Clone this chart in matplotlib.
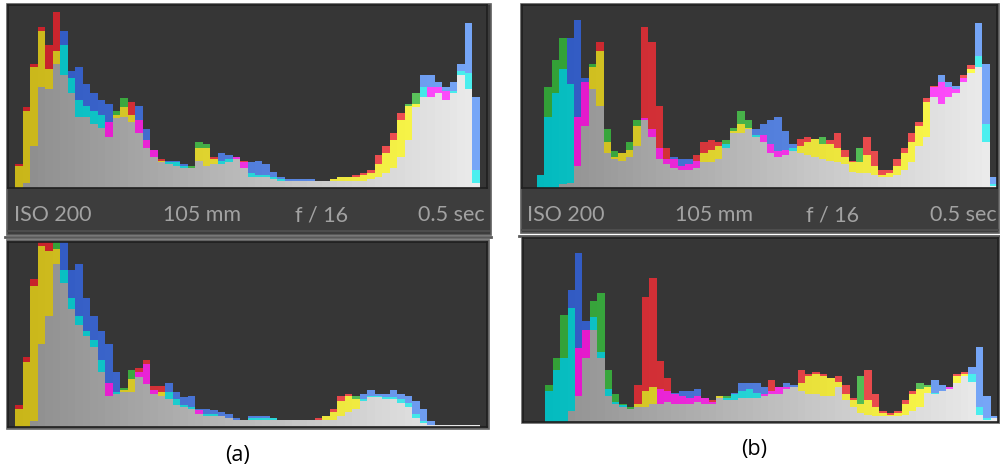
import numpy as np
import matplotlib
matplotlib.use('Agg')
import matplotlib.pyplot as plt
from matplotlib.patches import Rectangle
from matplotlib.colors import to_rgb

# ---------------- data: per-bin channel heights (percent of panel height) ----------------
a_top_r = [0,13,44,68,88,78,96,62,52,39,39,35,33,36,40,44,47,37,26,21,16,13,12,11,11,22,22,17,13,14,17,15,
           6,6,6,5,4,4,4,4,4,4,4,5,6,6,7,8,10,18,23,30,41,45,46,50,55,55,53,52,62,54,3,0]
a_top_g = [0,12,42,66,86,65,75,78,60,48,45,42,40,28,42,49,40,30,22,17,15,14,14,12,12,25,24,16,15,16,16,11,
           8,7,7,6,5,4,4,4,4,4,4,5,6,6,6,7,8,13,19,26,37,46,52,55,50,52,48,53,64,63,10,0]
a_top_b = [0,0,3,23,55,54,68,86,64,66,57,52,48,46,38,39,36,45,32,21,14,15,15,13,11,15,12,13,19,18,17,14,
           14,15,13,9,6,5,5,5,5,4,4,4,4,4,4,4,5,6,8,11,17,26,44,62,62,58,55,58,68,90,50,0]

a_bot_r = [0,12,38,80,100,100,96,78,64,55,49,43,30,24,18,20,26,32,36,22,22,15,12,11,10,9,6,6,6,5,4,4,
           4,4,4,4,4,4,4,4,4,5,6,10,17,18,15,14,16,16,15,15,13,11,5,2,1,1,1,1,1,1,1,0]
a_bot_g = [0,10,35,76,98,95,100,85,70,60,52,47,36,17,19,21,31,27,23,18,19,19,15,12,11,7,7,7,6,5,4,4,
           5,5,5,5,4,4,4,4,4,4,6,8,14,17,17,15,17,17,16,16,15,13,7,3,1,1,1,1,1,1,1,0]
a_bot_b = [0,0,0,3,45,60,88,100,85,88,70,60,52,45,30,19,19,30,34,20,17,24,19,16,17,10,10,9,8,7,5,4,
           6,6,6,5,4,4,4,4,4,4,4,4,6,8,10,18,20,18,18,20,18,17,14,10,3,1,1,1,1,1,1,0]

b_top_r = [0,0,0,0,0,2,3,39,58,66,80,25,17,19,21,34,88,80,45,22,16,12,13,18,25,26,25,22,31,35,33,28,
           29,24,20,21,20,27,28,27,24,26,30,21,15,14,28,20,10,10,16,22,30,36,49,56,58,55,54,62,67,66,25,1]
b_top_g = [0,0,7,55,70,82,57,12,34,68,75,32,20,19,25,37,37,28,16,13,11,10,10,11,19,21,23,26,33,42,37,29,
           25,19,17,18,22,23,25,27,28,24,22,17,14,22,18,12,7,8,12,19,25,34,47,50,46,50,52,58,65,72,35,2]
b_top_b = [0,0,7,39,52,65,82,92,60,54,45,19,16,15,17,23,38,32,22,16,17,16,16,15,14,14,16,24,30,30,32,32,
           35,37,39,31,24,19,18,17,16,15,14,13,9,8,8,7,6,6,7,10,14,23,28,55,62,58,56,60,63,90,68,6]

b_bot_r = [0,0,0,0,0,0,6,40,50,50,35,14,10,8,7,20,68,78,33,24,15,14,13,14,13,12,14,12,12,13,13,13,
           15,23,19,19,19,28,26,27,26,24,25,20,13,10,28,15,6,5,6,12,17,18,19,15,17,19,26,27,22,4,1,2]
b_bot_g = [0,0,0,20,35,58,62,14,35,66,70,28,15,10,8,10,17,19,10,11,10,10,10,11,10,10,14,14,15,17,18,16,
           14,15,15,18,19,21,25,26,25,24,22,15,12,25,12,8,5,4,5,10,15,21,20,16,17,18,25,26,26,8,2,2]
b_bot_b = [0,0,0,17,28,35,72,92,55,57,38,18,11,9,7,8,8,10,18,17,16,17,17,18,13,11,13,13,16,21,21,21,
           19,17,19,21,20,17,15,15,14,14,19,12,8,5,4,3,3,3,3,4,6,8,16,23,20,19,21,25,30,41,14,3]

info_labels = ['ISO 200', '105 mm', 'f / 16', '0.5 sec']
panel_labels = ['(a)', '(b)']

# ---------------- style ----------------
PAL = {
    'gray': ('#8a8a8a', '#ededed'),
    'R': ('#c41f28', '#f65a5a'),
    'G': ('#2f9e34', '#62c862'),
    'B': ('#2a52bd', '#78a8f8'),
    'Y': ('#c8b418', '#ffff50'),
    'C': ('#00b8bc', '#4ef0f0'),
    'M': ('#e012c4', '#ff50ff'),
}
PAIR = {frozenset('RG'): 'Y', frozenset('GB'): 'C', frozenset('RB'): 'M'}
HIST_BG = '#363636'
BAR_BG = '#3d3d3d'
TXT = '#a2a2a2'

W, H = 1000, 470
fig = plt.figure(figsize=(W / 100, H / 100), dpi=100)
fig.patch.set_facecolor('white')

bg = fig.add_axes([0, 0, 1, 1])
bg.set_xlim(0, W)
bg.set_ylim(H, 0)
bg.axis('off')


def px_axes(x0, y0, x1, y1):
    return fig.add_axes([x0 / W, 1 - y1 / H, (x1 - x0) / W, (y1 - y0) / H])


def grad(name, n):
    c0 = np.array(to_rgb(PAL[name][0]))
    c1 = np.array(to_rgb(PAL[name][1]))
    t = (np.arange(n) + 0.5) / n
    return c0[None, :] * (1 - t[:, None]) + c1[None, :] * t[:, None]


def draw_hist(ax, r, g, b):
    ch = np.array([r, g, b], dtype=float)
    n = ch.shape[1]
    order = np.argsort(ch, axis=0, kind='stable')
    srt = np.take_along_axis(ch, order, axis=0)
    lo, mid, hi = srt
    names = 'RGB'
    grads = {k: grad(k, n) for k in PAL}
    x = np.arange(n)
    mid_c = [grads[PAIR[frozenset(names[order[1, i]] + names[order[2, i]])]][i] for i in range(n)]
    top_c = [grads[names[order[2, i]]][i] for i in range(n)]
    kw = dict(width=1.0, align='edge', linewidth=0, antialiased=False)
    ax.bar(x, lo, color=grads['gray'], **kw)
    ax.bar(x, mid - lo, bottom=lo, color=mid_c, **kw)
    ax.bar(x, hi - mid, bottom=mid, color=top_c, **kw)
    ax.set_xlim(0, n)
    ax.set_ylim(0, 100)
    ax.set_facecolor(HIST_BG)
    ax.set_xticks([])
    ax.set_yticks([])
    for s in ax.spines.values():
        s.set_color('#1f1f1f')
        s.set_linewidth(1.2)


def info_bar(x0, x1, y0, y1, xs):
    bg.add_patch(Rectangle((x0, y0), x1 - x0, y1 - y0, facecolor=BAR_BG, edgecolor='none'))
    bg.plot([x0, x1], [y1 - 1.5, y1 - 1.5], color='#4d4d4d', lw=1.5)
    for lab, xx in zip(info_labels, xs):
        bg.text(xx, 221, lab, ha='left', va='baseline', color=TXT, fontsize=15.5,
                family=['Lato', 'DejaVu Sans'])


# outer frames
bg.add_patch(Rectangle((6.5, 3.5), 484, 231, facecolor=BAR_BG, edgecolor='#5e5e5e', lw=1.2))
bg.add_patch(Rectangle((520.5, 3.5), 478, 229, facecolor=BAR_BG, edgecolor='#5e5e5e', lw=1.2))
bg.plot([5, 491], [236.5, 236.5], color='#5a5a5a', lw=2)
bg.plot([519, 1000], [235.5, 235.5], color='#5a5a5a', lw=2)
bg.add_patch(Rectangle((6.5, 240), 482.5, 188.5, facecolor='#555555', edgecolor='#666666', lw=1.2))
bg.add_patch(Rectangle((521.5, 237), 478, 186, facecolor='#555555', edgecolor='#666666', lw=1.2))

info_bar(8, 489, 188, 232, [14, 163, 295, 418])
info_bar(522, 998, 188, 231, [527, 675, 806, 930])

ax1 = px_axes(8, 5, 487, 188)
draw_hist(ax1, a_top_r, a_top_g, a_top_b)
ax2 = px_axes(8, 242, 487, 427)
draw_hist(ax2, a_bot_r, a_bot_g, a_bot_b)
ax3 = px_axes(522, 5, 997, 188)
draw_hist(ax3, b_top_r, b_top_g, b_top_b)
ax4 = px_axes(523, 238, 998, 422)
draw_hist(ax4, b_bot_r, b_bot_g, b_bot_b)

bg.text(237, 456, panel_labels[0], ha='center', va='center', fontsize=15.5, color='black',
        family=['Open Sans', 'DejaVu Sans'])
bg.text(754, 449, panel_labels[1], ha='center', va='center', fontsize=15.5, color='black',
        family=['Open Sans', 'DejaVu Sans'])

fig.savefig('out.png', dpi=100, facecolor='white')
